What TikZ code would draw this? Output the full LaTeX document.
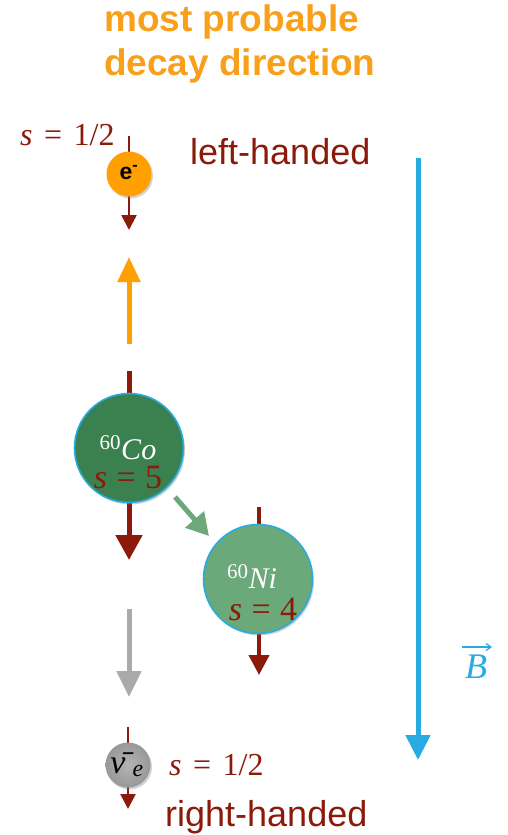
\documentclass[tikz,border=0pt]{standalone}
\usepackage{fontspec}
\setmainfont{Liberation Serif}
\setsansfont{Liberation Sans}
\usetikzlibrary{arrows.meta,shadows}
\definecolor{titleor}{HTML}{F9A01B}
\definecolor{eor}{HTML}{FF9F00}
\definecolor{spinred}{HTML}{8B1A0A}
\definecolor{cogreen}{HTML}{3B8150}
\definecolor{nigreen}{HTML}{6BA87A}
\definecolor{arrgreen}{HTML}{6DA87C}
\definecolor{bblue}{HTML}{29ABE2}
\definecolor{nuin}{HTML}{B4B4B4}
\definecolor{nuout}{HTML}{989898}
\definecolor{arrgray}{HTML}{AAAAAA}
\begin{document}
\begin{tikzpicture}[x=1pt,y=-1pt,
  spinarrow/.style={draw=spinred,line width=#1},
  particle/.style={circle,inner sep=0pt,drop shadow={opacity=0.35,shadow xshift=1.5pt,shadow yshift=-2pt}},
  nucleus/.style={particle,draw=bblue,line width=1.6pt},
  bigtext/.style={font=\sffamily\fontsize{36}{42}\selectfont,text=spinred,inner sep=0pt},
  spinlabel/.style={font=\fontsize{32}{36}\selectfont,text=spinred,inner sep=0pt},
  nuclabel/.style={font=\fontsize{30}{34}\selectfont,inner sep=0pt},
]
\useasboundingbox (0,0) rectangle (508,835);

% title
\node[anchor=base west,inner sep=0pt,font=\sffamily\bfseries\fontsize{37}{44}\selectfont,text=titleor] (t1) at (104,31) {most probable};
\node[anchor=base west,inner sep=0pt,font=\sffamily\bfseries\fontsize{37}{44}\selectfont,text=titleor] (t2) at (104,75) {decay direction};

% magnetic field
\coordinate (Btop) at (418,158);
\coordinate (Bbot) at (418,760);
\draw[draw=bblue,line width=5pt,-{Triangle[length=25pt,width=24pt]}] (Btop) -- (Bbot);
\node[font=\fontsize{36}{40}\selectfont\itshape,text=bblue,inner sep=0pt,anchor=base] (Blab) at (476,678) {B};
\coordinate (BarL) at (462,647);
\coordinate (BarR) at (492,647);
\draw[draw=bblue,line width=1.2pt,-{Straight Barb[length=5pt,width=7pt]}] (BarL) -- (BarR);

% electron
\coordinate (eTop) at (129,136);
\coordinate (eBot) at (129,230);
\draw[spinarrow=2.5pt,-{Triangle[length=15pt,width=15pt]}] (eTop) -- (eBot);
\node[particle,fill=eor,minimum size=45pt] (e) at (129,174) {};
\node[font=\sffamily\bfseries\fontsize{23}{25}\selectfont,inner sep=0pt] (etext) at (129,173) {e\textsuperscript{-}};
\node[spinlabel,anchor=base west] (es) at (20,145) {\textit{s}\hspace{0.36em}=\hspace{0.36em}1/2};
\node[bigtext,anchor=base west] (lh) at (190,164) {left-handed};

% orange decay direction arrow
\coordinate (oBot) at (129,344);
\coordinate (oTop) at (129,257);
\draw[draw=eor,line width=5pt,-{Triangle[length=25pt,width=22pt]}] (oBot) -- (oTop);

% cobalt
\coordinate (coTop) at (129,371);
\coordinate (coBot) at (129,560);
\draw[spinarrow=5pt,-{Triangle[length=25pt,width=26pt]}] (coTop) -- (coBot);
\node[nucleus,fill=cogreen,minimum size=109pt] (co) at (129,448) {};
\node[nuclabel,anchor=base,text=white] (cot) at (128,459) {\textsuperscript{60}\textit{Co}};
\node[spinlabel,anchor=base,font=\fontsize{34}{38}\selectfont] (cos) at (128,488) {\textit{s}\hspace{0.28em}=\hspace{0.28em}5};

% green arrow
\coordinate (gStart) at (175,497);
\coordinate (gEnd) at (209,536);
\draw[draw=arrgreen,line width=5pt,-{Triangle[length=22pt,width=24pt]}] (gStart) -- (gEnd);

% nickel
\coordinate (niTop) at (259,507);
\coordinate (niBot) at (259,675);
\draw[spinarrow=4pt,-{Triangle[length=20pt,width=20pt]}] (niTop) -- (niBot);
\node[nucleus,fill=nigreen,minimum size=109pt] (ni) at (258,579) {};
\node[nuclabel,anchor=base,text=white] (nit) at (252,588) {\textsuperscript{60}\textit{Ni}};
\node[spinlabel,anchor=base,font=\fontsize{34}{38}\selectfont] (nis) at (263,620) {\textit{s}\hspace{0.28em}=\hspace{0.28em}4};

% gray arrow
\coordinate (grTop) at (129,609);
\coordinate (grBot) at (129,697);
\draw[draw=arrgray,line width=5pt,-{Triangle[length=26pt,width=24pt]}] (grTop) -- (grBot);

% neutrino
\coordinate (nuTop) at (128,727);
\coordinate (nuBot) at (128,809);
\draw[spinarrow=2.5pt,-{Triangle[length=15pt,width=15pt]}] (nuTop) -- (nuBot);
\node[particle,inner color=nuin,outer color=nuout,minimum size=45pt] (nu) at (128,765) {};
\node[font=\fontsize{34}{36}\selectfont,inner sep=0pt,anchor=base] (nut) at (127,773) {\textit{\=ν}\textsubscript{\kern-0.05em\textit{e}}};
\node[spinlabel,anchor=base west] (nus) at (169,775) {\textit{s}\hspace{0.36em}=\hspace{0.36em}1/2};
\node[bigtext,anchor=base west] (rh) at (165,826) {right-handed};
\end{tikzpicture}
\end{document}
